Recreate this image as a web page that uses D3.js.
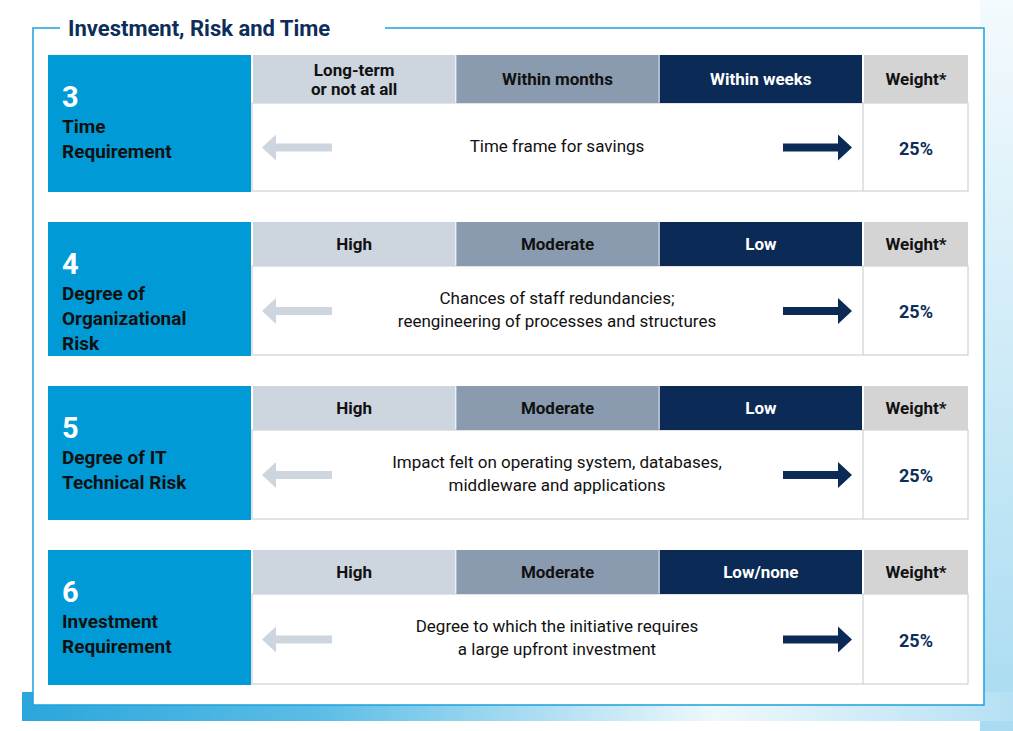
<!DOCTYPE html>
<html><head><meta charset="utf-8">
<script src="https://cdn.jsdelivr.net/npm/d3@7"></script>
<style>body{margin:0;background:#fff;font-family:Roboto,"Liberation Sans",sans-serif}</style>
</head><body><div id="chart"></div>
<script>
const numbers = ['3', '4', '5', '6'];
const titles = [['Time', 'Requirement'], ['Degree of', 'Organizational', 'Risk'], ['Degree of IT', 'Technical Risk'], ['Investment', 'Requirement']];
const scaleLabels = [
    [['Long-term', 'or not at all'], ['Within months'], ['Within weeks']],
    [['High'], ['Moderate'], ['Low']],
    [['High'], ['Moderate'], ['Low']],
    [['High'], ['Moderate'], ['Low/none']]
];
const descriptions = [
    ['Time frame for savings'],
    ['Chances of staff redundancies;', 'reengineering of processes and structures'],
    ['Impact felt on operating system, databases,', 'middleware and applications'],
    ['Degree to which the initiative requires', 'a large upfront investment']
];
const weights = ['25%', '25%', '25%', '25%'];
const panelTops = [55, 222, 386, 550];

const W = 1013, H = 731;
const svg = d3.select('#chart').append('svg').attr('width', W).attr('height', H);
const defs = svg.append('defs');
const gb = defs.append('linearGradient').attr('id', 'gb');
gb.append('stop').attr('offset', '0').attr('stop-color', '#2aa6dc');
gb.append('stop').attr('offset', '0.3').attr('stop-color', '#5cbde6');
gb.append('stop').attr('offset', '0.7').attr('stop-color', '#eef8fc');
gb.append('stop').attr('offset', '1').attr('stop-color', '#b5e0f3');
const gr = defs.append('linearGradient').attr('id', 'gr').attr('x1', 0).attr('y1', 0).attr('x2', 0).attr('y2', 1);
gr.append('stop').attr('offset', '0').attr('stop-color', '#f4fafd');
gr.append('stop').attr('offset', '1').attr('stop-color', '#a8dbf1');

// backdrop
svg.append('rect').attr('x', 980).attr('y', 0).attr('width', 33).attr('height', H).attr('fill', 'url(#gr)');
svg.append('rect').attr('x', 22).attr('y', 692).attr('width', 991).attr('height', 29).attr('fill', 'url(#gb)');
// frame
svg.append('rect').attr('x', 33).attr('y', 28).attr('width', 951).attr('height', 677).attr('fill', '#fff');
svg.append('path').attr('fill', 'none').attr('stroke', '#1ba3dc').attr('stroke-width', 1.5)
    .attr('d', 'M60,28 H33 V705 H984 V28 H385');
svg.append('text').attr('x', 68).attr('y', 36).attr('fill', '#0d2d5a')
    .attr('font-size', 22).attr('font-weight', 700).text('Investment, Risk and Time');

const x = d3.scaleBand().domain([0, 1, 2]).range([253, 862]).paddingInner(0.005);
const colFill = ['#cdd5de', '#8a9bb0', '#0b2a55'];
const colText = ['#111', '#111', '#fff'];
const heights = [137, 134, 134, 135];
const headH = [48, 44, 44, 44];

panelTops.forEach((top, i) => {
    const g = svg.append('g');
    const h = heights[i], hh = headH[i];
    g.append('rect').attr('x', 48).attr('y', top).attr('width', 203).attr('height', h).attr('fill', '#009bd6');
    g.append('text').attr('x', 62).attr('y', top + 52).attr('fill', '#fff')
        .attr('font-size', 29).attr('font-weight', 700).text(numbers[i]);
    g.append('text').attr('x', 62).attr('y', top + 78).attr('fill', '#111').attr('font-size', 19).attr('font-weight', 700)
        .selectAll('tspan').data(titles[i]).join('tspan').attr('x', 62).attr('dy', (d, k) => k ? 25 : 0).text(d => d);
    // body
    g.append('rect').attr('x', 252).attr('y', top + hh).attr('width', 716).attr('height', h - hh - 1)
        .attr('fill', '#fff').attr('stroke', '#c8c8c8');
    g.append('line').attr('x1', 863).attr('x2', 863).attr('y1', top + hh).attr('y2', top + h - 1).attr('stroke', '#c8c8c8');
    scaleLabels[i].forEach((lab, j) => {
        g.append('rect').attr('x', x(j)).attr('y', top).attr('width', x.bandwidth()).attr('height', hh).attr('fill', colFill[j]);
        const cy = top + hh / 2 + 6 - (lab.length - 1) * 9.5;
        g.append('text').attr('text-anchor', 'middle').attr('fill', colText[j]).attr('font-size', 17).attr('font-weight', 700)
            .attr('y', cy).selectAll('tspan').data(lab).join('tspan')
            .attr('x', x(j) + x.bandwidth() / 2).attr('dy', (d, k) => k ? 19 : 0).text(d => d);
    });
    g.append('rect').attr('x', 864).attr('y', top).attr('width', 104).attr('height', hh).attr('fill', '#d4d4d4');
    g.append('text').attr('x', 916).attr('y', top + hh / 2 + 6).attr('text-anchor', 'middle').attr('fill', '#111')
        .attr('font-size', 17).attr('font-weight', 700).text('Weight*');
    const mid = top + hh + (h - hh) / 2;
    g.append('text').attr('x', 916).attr('y', mid + 7).attr('text-anchor', 'middle').attr('fill', '#0d2d5a')
        .attr('font-size', 18).attr('font-weight', 700).text(weights[i]);
    const d = descriptions[i];
    g.append('text').attr('text-anchor', 'middle').attr('fill', '#111').attr('font-size', 17)
        .attr('y', mid - 2 - (d.length - 1) * 11.5 + 6)
        .selectAll('tspan').data(d).join('tspan').attr('x', 557).attr('dy', (t, k) => k ? 23 : 0).text(t => t);
    // arrows
    g.append('path').attr('fill', '#cdd5de')
        .attr('d', `M262,${mid} L276,${mid - 13} V${mid - 4} H332 V${mid + 4} H276 V${mid + 13} Z`);
    g.append('path').attr('fill', '#0b2a55')
        .attr('d', `M852,${mid} L838,${mid - 13} V${mid - 4} H783 V${mid + 4} H838 V${mid + 13} Z`);
});
</script></body></html>
